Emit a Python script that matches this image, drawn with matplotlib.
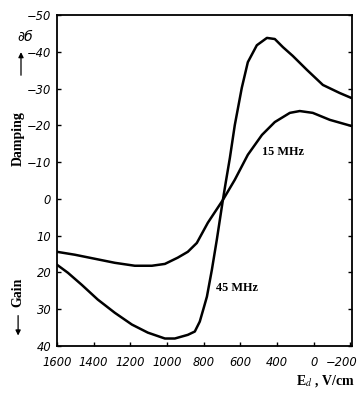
import matplotlib
matplotlib.use("Agg")
import matplotlib.pyplot as plt
import matplotlib.transforms as mtransforms
from matplotlib.patches import FancyArrowPatch

# E_d (V/cm) and damping/gain values
x_45 = [1600, 1540, 1464, 1377, 1284, 1191, 1104, 1011, 957, 886, 848, 821,
        799, 782, 755, 728, 695, 679, 657, 630, 592, 559, 510, 455, 412,
        368, 314, 237, 150, 58, -8]
y_45 = [17.9, 20.1, 23.4, 27.4, 31.0, 34.2, 36.4, 38.0, 38.0, 37.0, 36.1, 33.4,
        29.6, 26.6, 19.3, 11.1, 0.3, -4.6, -11.1, -20.1, -30.2, -37.2, -41.8,
        -43.8, -43.5, -41.3, -38.9, -35.1, -31.0, -28.8, -27.4]

x_15 = [1600, 1502, 1393, 1284, 1175, 1082, 1011, 941, 886, 837, 777, 695,
        630, 559, 482, 412, 330, 276, 205, 112, -8]
y_15 = [14.4, 15.2, 16.3, 17.4, 18.2, 18.2, 17.7, 16.0, 14.4, 12.0, 6.5, 0.3,
        -5.2, -12.0, -17.4, -20.9, -23.4, -23.9, -23.4, -21.5, -19.8]

xticks = [1600, 1400, 1200, 1000, 800, 600, 400, 200, 0]
xtick_labels = ["1600", "1400", "1200", "1000", "800", "600", "400", "0", "\u2212200"]
yticks = [-50, -40, -30, -20, -10, 0, 10, 20, 30, 40]
ytick_labels = ["\u221250", "\u221240", "\u221230", "\u221220", "\u221210",
                "0", "10", "20", "30", "40"]

fig = plt.figure(figsize=(3.62, 3.98), dpi=100)
ax = fig.add_axes([0.157, 0.131, 0.815, 0.831])

for xs, ys in [(x_45, y_45), (x_15, y_15)]:
    ax.plot(xs, ys, color="black", lw=1.8, solid_capstyle="round",
            solid_joinstyle="round")

ax.set_xlim(1600, -8)
ax.set_ylim(40, -50)

tick_font = dict(family="DejaVu Sans", style="oblique", size=8.3)
ax.set_xticks(xticks, xtick_labels, **tick_font)
ax.set_yticks(yticks, ytick_labels, **tick_font)
ax.tick_params(direction="in", length=3, width=1)
ax.tick_params(axis="x", pad=7)
ax.tick_params(axis="y", pad=4, right=True)

# keep the last x label inside the picture
last = ax.get_xticklabels()[-1]
last.set_transform(last.get_transform() +
                   mtransforms.ScaledTranslation(-6 / 72, 0, fig.dpi_scale_trans))

for s in ax.spines.values():
    s.set_linewidth(1.3)

serif_b = dict(family="Liberation Serif", weight="bold")
ax.text(482, -12, "15 MHz", fontsize=8.8, **serif_b)
ax.text(735, 25, "45 MHz", fontsize=8.8, **serif_b)

fig.text(0.07, 0.907, "\u2202\u0431", fontsize=10, style="italic",
         family="DejaVu Sans", ha="center", va="center")
fig.text(0.05, 0.653, "Damping", rotation=90, fontsize=10, ha="center",
         va="center", **serif_b)
fig.text(0.05, 0.266, "Gain", rotation=90, fontsize=10, ha="center",
         va="center", **serif_b)
fig.patches.append(FancyArrowPatch(
    (0.058, 0.804), (0.058, 0.876), transform=fig.transFigure,
    arrowstyle="-|>,head_length=3,head_width=1.5", color="black", lw=0.9))
fig.patches.append(FancyArrowPatch(
    (0.05, 0.214), (0.05, 0.15), transform=fig.transFigure,
    arrowstyle="-|>,head_length=3,head_width=1.5", color="black", lw=0.9))

plt.rcParams["mathtext.fontset"] = "stix"
fig.text(0.98, 0.022, r"E$_{\mathit{d}}$ , V/cm", fontsize=10, ha="right",
         va="bottom", **serif_b)

fig.savefig("out.png", dpi=100)
